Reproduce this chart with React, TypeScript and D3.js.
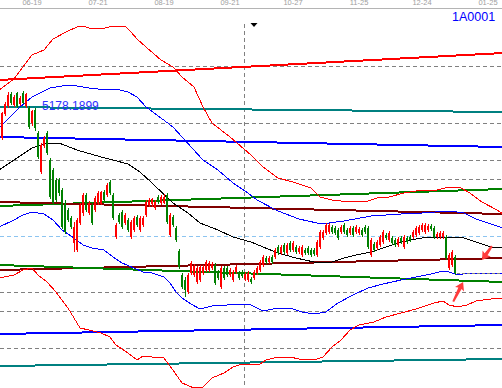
import * as d3 from "d3";

// trading-day index -> date label (top strip)
const tickLabels = ["06-19", "07-21", "08-19", "09-21", "10-27", "11-25", "12-24", "01-25"];
const tickDays = [10, 32, 54, 76, 97, 119, 140, 162];

// daily bars: open, close, high, low (index = trading day)
const ohlc: number[][] = [
  [4644, 4944, 4956, 4620], [4932, 5052, 5076, 4908], [5028, 5160, 5196, 5004], [5172, 5064, 5196, 5040],
  [5040, 5136, 5160, 5016], [5184, 5028, 5196, 5004], [5052, 5124, 5148, 5028], [5184, 5064, 5208, 5052],
  [5028, 5172, 5178.19, 5004], [5004, 4776, 5028, 4752], [4824, 4968, 4980, 4788], [4980, 4764, 5004, 4728],
  [4704, 4416, 4728, 4392], [4236, 4560, 4584, 4212], [4548, 4644, 4668, 4524], [4704, 4464, 4728, 4440],
  [4380, 3936, 4404, 3912], [4260, 3864, 4284, 3840], [4140, 3900, 4164, 3876], [4140, 3984, 4164, 3948],
  [4020, 3576, 4044, 3552], [3864, 3516, 3900, 3492], [3780, 3660, 3804, 3636], [3684, 3576, 3708, 3552],
  [3384, 3576, 3636, 3276], [3300, 3660, 3684, 3276], [3624, 3840, 3864, 3600], [3744, 3960, 3984, 3708],
  [3960, 3780, 3984, 3756], [3744, 3864, 3888, 3720], [3840, 3624, 3864, 3600], [3780, 3924, 3948, 3756],
  [3864, 3984, 4008, 3840], [3852, 3996, 4008, 3840], [3996, 3900, 4020, 3876], [3960, 4080, 4104, 3936],
  [4116, 3984, 4140, 3960], [3960, 3684, 3984, 3660], [3456, 3600, 3624, 3432], [3720, 3636, 3744, 3612],
  [3756, 3576, 3780, 3552], [3624, 3720, 3744, 3600], [3660, 3540, 3684, 3516], [3456, 3636, 3660, 3432],
  [3540, 3684, 3708, 3516], [3696, 3600, 3720, 3576], [3540, 3684, 3708, 3516], [3600, 3684, 3708, 3576],
  [3720, 3876, 3900, 3696], [3840, 3900, 3924, 3816], [3852, 3912, 3924, 3816], [3804, 3876, 3900, 3780],
  [3936, 3876, 3960, 3852], [3864, 3936, 3960, 3840], [3864, 3936, 3972, 3852], [3960, 3636, 3984, 3612],
  [3480, 3720, 3744, 3456], [3696, 3600, 3720, 3576], [3564, 3420, 3588, 3396], [3288, 3096, 3312, 3072],
  [3000, 2856, 3024, 2832], [2940, 2820, 2976, 2736], [2796, 3000, 3024, 2772], [3024, 3144, 3168, 3000],
  [3000, 3108, 3132, 2976], [2916, 3084, 3108, 2892], [2940, 3096, 3120, 2916], [3024, 3096, 3120, 3000],
  [3060, 3156, 3180, 3036], [3060, 3144, 3168, 3036], [3084, 3132, 3156, 3060], [3120, 2904, 3144, 2880],
  [3036, 2964, 3060, 2940], [2856, 3084, 3108, 2832], [3084, 2964, 3108, 2940], [3084, 3000, 3108, 2976],
  [3000, 3060, 3084, 2976], [2940, 3036, 3060, 2916], [3036, 3096, 3120, 3012], [3024, 2964, 3048, 2940],
  [3036, 2988, 3060, 2964], [2952, 3012, 3036, 2928], [2940, 3024, 3048, 2916], [2952, 2916, 2976, 2892],
  [2964, 3036, 3060, 2940], [3024, 3084, 3108, 3000], [3060, 3156, 3180, 3036], [3120, 3216, 3240, 3096],
  [3204, 3156, 3228, 3132], [3156, 3204, 3228, 3132], [3216, 3156, 3240, 3132], [3216, 3300, 3324, 3192],
  [3336, 3264, 3360, 3240], [3264, 3336, 3360, 3240], [3360, 3276, 3384, 3252], [3264, 3360, 3384, 3240],
  [3384, 3300, 3408, 3276], [3300, 3384, 3408, 3276], [3336, 3276, 3360, 3252], [3276, 3324, 3348, 3252],
  [3240, 3336, 3360, 3216], [3300, 3264, 3324, 3240], [3324, 3264, 3348, 3240], [3300, 3240, 3324, 3216],
  [3300, 3252, 3324, 3228], [3240, 3396, 3420, 3216], [3336, 3516, 3540, 3312], [3444, 3516, 3540, 3420],
  [3504, 3600, 3624, 3480], [3516, 3600, 3624, 3492], [3576, 3516, 3600, 3492], [3564, 3504, 3588, 3480],
  [3540, 3444, 3564, 3420], [3516, 3576, 3600, 3492], [3600, 3516, 3624, 3492], [3540, 3480, 3564, 3456],
  [3504, 3564, 3588, 3480], [3564, 3480, 3588, 3456], [3516, 3576, 3600, 3492], [3504, 3552, 3576, 3480],
  [3540, 3480, 3564, 3456], [3576, 3516, 3600, 3492], [3564, 3336, 3588, 3312], [3240, 3420, 3444, 3216],
  [3372, 3300, 3396, 3276], [3324, 3396, 3420, 3300], [3360, 3456, 3480, 3336], [3396, 3516, 3540, 3372],
  [3480, 3444, 3504, 3420], [3420, 3504, 3528, 3396], [3444, 3384, 3468, 3360], [3420, 3360, 3444, 3336],
  [3360, 3432, 3456, 3336], [3444, 3396, 3468, 3372], [3336, 3456, 3480, 3312], [3444, 3396, 3468, 3372],
  [3456, 3420, 3480, 3396], [3456, 3516, 3540, 3432], [3480, 3564, 3588, 3456], [3504, 3576, 3600, 3480],
  [3540, 3600, 3624, 3516], [3516, 3600, 3624, 3492], [3540, 3588, 3612, 3516], [3588, 3552, 3612, 3528],
  [3564, 3456, 3588, 3432], [3456, 3492, 3516, 3432], [3456, 3504, 3528, 3432], [3456, 3504, 3528, 3432],
  [3456, 3204, 3480, 3180], [3084, 3240, 3264, 3060], [3120, 3276, 3300, 3096], [3216, 3024, 3240, 3000],
];

// band curves [day, value]
const upperOuter: [number, number][] = [
  [-1, 5220], [4, 5352], [8, 5544], [10, 5640], [14, 5700], [17, 5832], [22, 5928], [25, 5976], [27, 5988],
  [29, 5964], [33, 5952], [37, 5988], [41, 5988], [43, 5916], [45, 5832], [48, 5736], [53, 5580], [57, 5496],
  [60, 5376], [64, 5256], [67, 5016], [70, 4824], [73, 4740], [76, 4656], [83, 4440], [87, 4296], [92, 4164],
  [97, 4116], [103, 4044], [106, 3936], [110, 3900], [116, 3876], [122, 3888], [125, 3924], [129, 3936],
  [134, 3984], [138, 4008], [145, 4020], [149, 4056], [153, 4044], [156, 3984], [160, 3876], [165, 3780], [167, 3732],
];
const upperInner: [number, number][] = [
  [-1, 4764], [6, 5016], [10, 5136], [16, 5244], [22, 5280], [25, 5268], [29, 5244], [35, 5220], [38, 5232],
  [42, 5196], [45, 5136], [48, 5016], [53, 4884], [57, 4776], [60, 4656], [67, 4380], [72, 4260], [77, 4104],
  [82, 3984], [85, 3900], [92, 3768], [99, 3672], [105, 3624], [109, 3624], [114, 3648], [123, 3708],
  [133, 3732], [140, 3744], [149, 3768], [154, 3744], [158, 3672], [163, 3612], [167, 3564],
];
const middle: [number, number][] = [
  [-1, 4260], [4, 4380], [10, 4524], [15, 4584], [19, 4584], [25, 4500], [33, 4416], [37, 4380], [42, 4332],
  [46, 4236], [50, 4104], [57, 3864], [62, 3744], [66, 3624], [72, 3540], [77, 3456], [83, 3396], [87, 3336],
  [92, 3264], [98, 3204], [104, 3156], [107, 3144], [110, 3156], [114, 3204], [118, 3240], [123, 3276],
  [127, 3324], [132, 3384], [136, 3420], [140, 3444], [145, 3456], [149, 3456], [154, 3444], [158, 3396],
  [163, 3336], [167, 3324],
];
const lowerInner: [number, number][] = [
  [-1, 3576], [4, 3660], [7, 3720], [10, 3756], [14, 3732], [17, 3660], [20, 3540], [24, 3444], [27, 3360],
  [30, 3324], [34, 3300], [37, 3216], [40, 3144], [44, 3084], [47, 3036], [50, 3024], [54, 2976], [56, 2904],
  [58, 2796], [60, 2724], [63, 2652], [66, 2592], [70, 2628], [75, 2640], [79, 2652], [83, 2640], [87, 2568],
  [92, 2604], [96, 2604], [100, 2556], [104, 2532], [108, 2556], [112, 2664], [117, 2760], [122, 2844],
  [127, 2892], [133, 2940], [138, 2976], [143, 3012], [147, 3048], [149, 3036], [152, 3000], [155, 3024],
  [160, 3024], [167, 3024],
];
const lowerOuter: [number, number][] = [
  [-1, 2964], [4, 3000], [7, 3060], [10, 3084], [12, 3000], [15, 2916], [18, 2796], [20, 2700], [22, 2604],
  [26, 2364], [29, 2340], [33, 2304], [36, 2256], [38, 2160], [42, 2064], [45, 1980], [47, 2028], [50, 2016],
  [54, 2004], [57, 1860], [60, 1704], [64, 1644], [67, 1656], [70, 1764], [74, 1824], [77, 1896], [80, 1932],
  [86, 1932], [88, 1980], [92, 2016], [96, 2016], [99, 1992], [104, 1980], [107, 2016], [110, 2136],
  [113, 2220], [116, 2340], [119, 2400], [124, 2436], [128, 2496], [133, 2544], [138, 2592], [144, 2664],
  [147, 2688], [149, 2640], [152, 2616], [155, 2640], [158, 2688], [163, 2712], [167, 2724],
];

// straight trend channels: value at first day, value at last day
const channelDays = [-1, 167];
const channelValues = [
  [5340, 5664], [5016, 4956], [4656, 4536], [3828, 4032], [3876, 3732],
  [3060, 3204], [3120, 2916], [2292, 2400], [1908, 1992],
];
const channelColors = [
  "#ff0000", "#008080", "#0000ff", "#008000", "#800000",
  "#800000", "#008000", "#0000ff", "#008080",
];

const gridLevels = [5508, 4824, 4380, 4152, 2796, 2568, 2124];
const markLevel = 3468;
const cursorDay = 80.7;
const markerDay = 84;
const peakDay = 8;
const peakLabel = "5178.1899";
const codeLabel = "1A0001";
const arrowTips = [
  { day: 160, value: 3180, angle: 125.5, len: 17 },
  { day: 153.7, value: 2916, angle: -63.4, len: 22 },
];

export default function App() {
  const width = 502;
  const height = 388;
  const x = d3.scaleLinear().domain([0, 167]).range([2, 503]);
  const y = d3.scaleLinear().domain([1644, 6204]).range([388, 8]);
  const line = d3
    .line<[number, number]>()
    .x((d) => x(d[0]))
    .y((d) => y(d[1]));

  const lastIdx = ohlc.length - 1;
  const lastClose = ohlc[lastIdx][1];

  const curves: [[number, number][], string][] = [
    [upperOuter, "#ff0000"],
    [upperInner, "#0000ff"],
    [middle, "#000000"],
    [lowerInner, "#0000ff"],
    [lowerOuter, "#ff0000"],
  ];

  return (
    <svg
      width={width}
      height={height}
      style={{ position: "absolute", left: 0, top: 0, background: "#fff" }}
      shapeRendering="crispEdges"
    >
      <rect x={0} y={0} width={width} height={height} fill="#fff" />

      {/* date strip */}
      <line x1={0} x2={width} y1={8.5} y2={8.5} stroke="#b4b4b4" />
      {tickLabels.map((t, i) => (
        <text
          key={t}
          x={x(tickDays[i])}
          y={4.5}
          textAnchor="middle"
          fontFamily="Liberation Sans, Arial, sans-serif"
          fontSize={7.5}
          fill="#a0a0a0"
        >
          {t}
        </text>
      ))}

      {/* level lines */}
      {gridLevels.map((v) => (
        <line
          key={v}
          x1={0}
          x2={width}
          y1={Math.round(y(v)) + 0.5}
          y2={Math.round(y(v)) + 0.5}
          stroke="#808080"
          strokeDasharray="4,3"
        />
      ))}
      <line
        x1={0}
        x2={width}
        y1={Math.round(y(markLevel)) + 0.5}
        y2={Math.round(y(markLevel)) + 0.5}
        stroke="#8cc4f0"
        strokeDasharray="4,3"
      />
      <line
        x1={Math.round(x(cursorDay)) + 0.5}
        x2={Math.round(x(cursorDay)) + 0.5}
        y1={24}
        y2={height}
        stroke="#808080"
        strokeDasharray="4,3"
      />

      {/* channels */}
      {channelValues.map((v, i) => (
        <line
          key={"ch" + i}
          x1={x(channelDays[0])}
          x2={x(channelDays[1])}
          y1={y(v[0])}
          y2={y(v[1])}
          stroke={channelColors[i]}
          strokeWidth={2}
        />
      ))}

      {/* bands */}
      {curves.map(([pts, col], i) => (
        <path key={"c" + i} d={line(pts) as string} fill="none" stroke={col} strokeWidth={1} />
      ))}

      {/* last close line */}
      <line
        x1={x(lastIdx) + 2}
        x2={width}
        y1={Math.round(y(lastClose)) + 0.5}
        y2={Math.round(y(lastClose)) + 0.5}
        stroke="#808080"
        strokeDasharray="3,2"
      />

      {/* candles */}
      {ohlc.map(([o, c, h, l], i) => {
        const cx = Math.round(x(i));
        const col = c >= o ? "#ff0000" : "#008000";
        const top = Math.round(y(Math.max(o, c)));
        const bot = Math.round(y(Math.min(o, c)));
        const hy = Math.round(y(h));
        const ly = Math.round(y(l));
        return (
          <g key={"k" + i}>
            <rect x={cx} y={hy} width={1} height={Math.max(1, ly - hy)} fill={col} />
            <rect x={cx - 1} y={top} width={2} height={Math.max(1, bot - top)} fill={col} />
          </g>
        );
      })}

      {/* labels */}
      <text
        x={x(peakDay) + 16}
        y={y(ohlc[peakDay][2]) + 16.5}
        fontFamily="Liberation Sans, Arial, sans-serif"
        fontSize={12}
        fill="#3030ff"
      >
        {peakLabel}
      </text>
      <text
        x={452}
        y={21}
        fontFamily="Liberation Sans, Arial, sans-serif"
        fontSize={12.5}
        fill="#0000ff"
      >
        {codeLabel}
      </text>
      <polygon
        points={`${x(markerDay) - 3.5},23 ${x(markerDay) + 3.5},23 ${x(markerDay)},27`}
        fill="#000"
        shapeRendering="auto"
      />

      {/* annotation arrows */}
      {arrowTips.map((a, i) => (
        <polygon
          key={"a" + i}
          transform={`translate(${x(a.day)},${y(a.value)}) rotate(${a.angle})`}
          points={`0,0 -8,-5 -7,-1.8 ${-a.len},-1 ${-a.len},1 -7,1.8 -8,5`}
          fill="#ff3c3c"
          shapeRendering="auto"
        />
      ))}
    </svg>
  );
}
